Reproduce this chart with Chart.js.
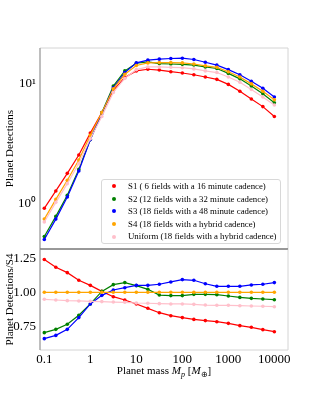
<!DOCTYPE html>
<html>
<head>
<meta charset="utf-8">
<title>Planet detections</title>
<script src="https://cdn.jsdelivr.net/npm/chart.js@4.4.1/dist/chart.umd.min.js"></script>
<style>
  html, body { margin: 0; padding: 0; background: #fff; }
  #wrap { position: relative; width: 320px; height: 400px; font-family: "Liberation Serif", "Times New Roman", serif; }
  canvas { position: absolute; left: 0; top: 0; }
  #legend {
    position: absolute; left: 101px; top: 179px; width: 178px; height: 63px;
    border: 1px solid #d8d8d8; border-radius: 3px; background: rgba(255,255,255,0.85);
    font-size: 8.8px; color: #000;
  }
  .row { position: relative; height: 12.6px; line-height: 12.6px; padding-left: 26px; white-space: nowrap; }
  .dot { position: absolute; left: 9.5px; top: 4.3px; width: 4px; height: 4px; border-radius: 50%; }
  #xtitle { position: absolute; left: 40px; width: 248px; top: 364px; text-align: center; font-size: 11px; line-height: 13px; color: #000; }
</style>
</head>
<body>
<div id="wrap">
  <canvas id="topChart" width="320" height="400"></canvas>
  <canvas id="ratioChart" width="320" height="400"></canvas>
  <div id="legend"></div>
  <div id="xtitle">Planet mass <i>M</i><sub style="font-size:8px"><i>p</i></sub> [<i>M</i><sub style="font-size:8px">⊕</sub>]</div>
</div>
<script>
// planet masses (Earth masses), 4 per decade
const masses = [0.1, 0.178, 0.316, 0.562, 1, 1.78, 3.16, 5.62, 10, 17.8, 31.6, 56.2, 100, 178, 316, 562, 1000, 1780, 3160, 5620, 10000];

// planet detections (top panel)
const s1 = [0.91, 1.27, 1.78, 2.53, 3.85, 5.7, 8.7, 11.2, 12.7, 13.1, 12.9, 12.5, 12.2, 11.8, 11.3, 10.8, 9.8, 8.6, 7.4, 6.4, 5.3];
const s2 = [0.53, 0.78, 1.17, 1.92, 3.4, 5.7, 9.5, 12.7, 14.7, 15.1, 14.6, 14.5, 14.4, 14.2, 13.7, 13.3, 12.1, 10.9, 9.5, 8.2, 6.9];
const s3 = [0.50, 0.74, 1.13, 1.86, 3.4, 5.6, 9.2, 12.3, 14.8, 15.6, 15.9, 16.1, 16.2, 15.8, 15.0, 14.2, 13.0, 11.8, 10.4, 9.1, 7.7];
const s4 = [0.74, 1.08, 1.56, 2.30, 3.7, 5.7, 9.0, 11.9, 14.1, 14.8, 14.9, 14.9, 14.8, 14.5, 14.0, 13.6, 12.5, 11.3, 9.9, 8.6, 7.3];
const uni = [0.70, 1.02, 1.46, 2.15, 3.45, 5.3, 8.4, 11.0, 13.0, 13.7, 13.7, 13.6, 13.5, 13.2, 12.7, 12.3, 11.3, 10.2, 8.9, 7.7, 6.6];

// detections relative to S4 (bottom panel)
const r1 = [1.24, 1.183, 1.144, 1.088, 1.051, 1.007, 0.968, 0.944, 0.915, 0.883, 0.851, 0.829, 0.815, 0.802, 0.793, 0.785, 0.773, 0.756, 0.744, 0.727, 0.712];
const r2 = [0.705, 0.729, 0.766, 0.832, 0.915, 1.007, 1.056, 1.071, 1.049, 1.022, 0.98, 0.976, 0.976, 0.985, 0.985, 0.983, 0.973, 0.963, 0.956, 0.951, 0.946];
const r3 = [0.661, 0.685, 0.729, 0.815, 0.915, 0.978, 1.017, 1.034, 1.051, 1.051, 1.059, 1.076, 1.093, 1.088, 1.063, 1.044, 1.044, 1.044, 1.054, 1.059, 1.071];
const r4 = [1, 1, 1, 1, 1, 1, 1, 1, 1, 1, 1, 1, 1, 1, 1, 1, 1, 1, 1, 1, 1];
const r5 = [0.949, 0.944, 0.939, 0.937, 0.934, 0.932, 0.929, 0.927, 0.922, 0.92, 0.917, 0.915, 0.915, 0.912, 0.907, 0.905, 0.905, 0.902, 0.9, 0.898, 0.895];

const seriesLabels = [
    'S1 ( 6 fields with a 16 minute cadence)',
    'S2 (12 fields with a 32 minute cadence)',
    'S3 (18 fields with a 48 minute cadence)',
    'S4 (18 fields with a hybrid cadence)',
    'Uniform (18 fields with a hybrid cadence)'
];
const seriesColors = ['#ff0000', '#008000', '#0000ff', '#ffa500', '#ffc0cb'];

const xTicks = [0.1, 1, 10, 100, 1000, 10000];
const xTickLabels = ['0.1', '1', '10', '100', '1000', '10000'];
const topTicks = [1, 10];
const topTickLabels = ['10⁰', '10¹'];
const ratioTicks = [0.75, 1.0, 1.25];
const ratioTickLabels = ['0.75', '1.00', '1.25'];

const FONT = '"Liberation Serif", "Times New Roman", serif';

// matplotlib-like frame round each panel
const framePlugin = {
    id: 'frame',
    afterDraw(chart) {
        const {ctx, chartArea: a} = chart;
        const sep = chart.options.plugins.frame;
        ctx.save();
        ctx.lineWidth = 1;
        ctx.strokeStyle = '#d4d4d4';
        ctx.beginPath();
        ctx.moveTo(a.right, a.top); ctx.lineTo(a.right, a.bottom);
        if (!sep.topDark) { ctx.moveTo(a.left, a.top); ctx.lineTo(a.right, a.top); }
        if (!sep.bottomDark) { ctx.moveTo(a.left, a.bottom); ctx.lineTo(a.right, a.bottom); }
        ctx.stroke();
        ctx.strokeStyle = '#a8a8a8';
        ctx.lineWidth = 1.5;
        ctx.beginPath();
        ctx.moveTo(a.left, a.top); ctx.lineTo(a.left, a.bottom);
        ctx.stroke();
        ctx.strokeStyle = '#777777';
        ctx.lineWidth = 1;
        ctx.beginPath();
        if (sep.topDark) { ctx.moveTo(a.left, a.top); ctx.lineTo(a.right, a.top); }
        if (sep.bottomDark) { ctx.moveTo(a.left, a.bottom); ctx.lineTo(a.right, a.bottom); }
        ctx.stroke();
        ctx.restore();
    }
};

function makeDatasets(series) {
    return series.map((vals, i) => ({
        label: seriesLabels[i],
        data: masses.map((m, j) => ({x: m, y: vals[j]})),
        borderColor: seriesColors[i],
        backgroundColor: seriesColors[i],
        borderWidth: 1.2,
        pointRadius: 1.8,
        pointBorderWidth: 0,
        order: series.length - i
    }));
}

function yAxis(type, min, max, ticks, labels, title) {
    return {
        type: type, min: min, max: max,
        grid: { display: false, drawTicks: false },
        border: { display: false },
        afterBuildTicks: s => { s.ticks = ticks.map(v => ({value: v})); },
        afterFit: s => { s.width = 40; },
        ticks: {
            font: { family: FONT, size: 13 }, color: '#000', padding: 4,
            callback: (v, i) => labels[i]
        },
        title: {
            display: true, text: title, color: '#000',
            font: { family: FONT, size: 11 }, padding: { top: 4, bottom: 0 }
        }
    };
}

const X_MIN = 0.0806, X_MAX = 19800;

new Chart(document.getElementById('topChart'), {
    type: 'line',
    data: { datasets: makeDatasets([s1, s2, s3, s4, uni]) },
    options: {
        responsive: false, animation: false, events: [], devicePixelRatio: 1,
        layout: { padding: { top: 48, right: 32, bottom: 151, left: 0 } },
        plugins: { legend: { display: false }, tooltip: { enabled: false }, frame: { bottomDark: true } },
        scales: {
            x: { type: 'logarithmic', min: X_MIN, max: X_MAX, display: false },
            y: yAxis('logarithmic', 0.417, 19.7, topTicks, topTickLabels, 'Planet Detections')
        }
    },
    plugins: [framePlugin]
});

new Chart(document.getElementById('ratioChart'), {
    type: 'line',
    data: { datasets: makeDatasets([r1, r2, r3, r4, r5]) },
    options: {
        responsive: false, animation: false, events: [], devicePixelRatio: 1,
        layout: { padding: { top: 249, right: 32, bottom: 20, left: 0 } },
        plugins: { legend: { display: false }, tooltip: { enabled: false }, frame: { topDark: true } },
        scales: {
            x: {
                type: 'logarithmic', min: X_MIN, max: X_MAX,
                grid: { display: false, drawTicks: false },
                border: { display: false },
                afterBuildTicks: s => { s.ticks = xTicks.map(v => ({value: v})); },
                afterFit: s => { s.height = 30; },
                ticks: {
                    font: { family: FONT, size: 13 }, color: '#000', padding: 2,
                    autoSkip: false, maxRotation: 0,
                    callback: (v, i) => xTickLabels[i]
                }
            },
            y: yAxis('linear', 0.578, 1.317, ratioTicks, ratioTickLabels, 'Planet Detections/S4')
        }
    },
    plugins: [framePlugin]
});

// legend inside the top panel
const legendBox = document.getElementById('legend');
seriesLabels.forEach((label, i) => {
    const row = document.createElement('div');
    row.className = 'row';
    const dot = document.createElement('span');
    dot.className = 'dot';
    dot.style.background = seriesColors[i];
    row.appendChild(dot);
    row.appendChild(document.createTextNode(label));
    legendBox.appendChild(row);
});
</script>
</body>
</html>
